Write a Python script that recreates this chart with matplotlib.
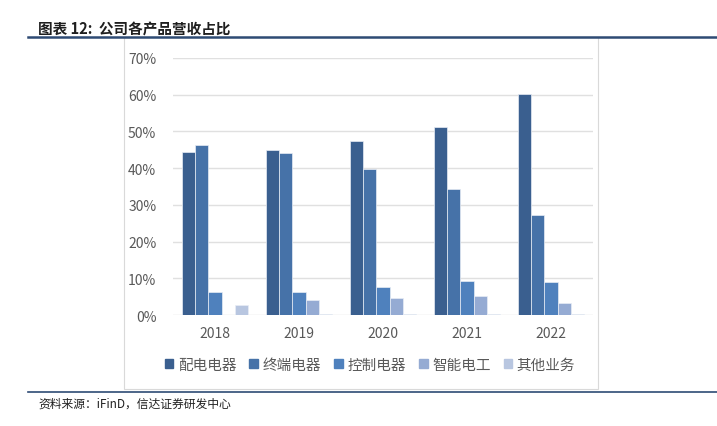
import matplotlib
matplotlib.use("Agg")
from matplotlib import pyplot as plt
from matplotlib.patches import Rectangle
from matplotlib.lines import Line2D
import numpy as np

plt.rcParams['font.family'] = ['Noto Sans CJK SC', 'DejaVu Sans']

years = ["2018", "2019", "2020", "2021", "2022"]
series = ["配电电器", "终端电器", "控制电器", "智能电工", "其他业务"]
配电电器 = [44.5, 44.9, 47.4, 51.1, 60.2]
终端电器 = [46.3, 44.2, 39.8, 34.2, 27.3]
控制电器 = [6.4, 6.4, 7.7, 9.2, 8.9]
智能电工 = [0.0, 4.1, 4.7, 5.3, 3.3]
其他业务 = [2.6, 0.3, 0.2, 0.2, 0.3]
values = [配电电器, 终端电器, 控制电器, 智能电工, 其他业务]
colors = ["#3A5F8F", "#4672A8", "#4F81BD", "#95ABD3", "#B8C6E0"]

fig = plt.figure(figsize=(7.17, 4.27), dpi=100)

# 外枠と上下の線
fig.add_artist(Rectangle((124/717, 1-390/427), (598-124)/717, (390-38)/427,
                         transform=fig.transFigure, fill=False, ec="#D9D9D9", lw=0.8))
fig.add_artist(Line2D([28/717, 1], [1-38/427]*2, transform=fig.transFigure,
                      color="#2E4B74", lw=1.8))
fig.add_artist(Line2D([28/717, 1], [1-393/427]*2, transform=fig.transFigure,
                      color="#2E4B74", lw=1.2))
fig.text(38/717, 1-29/427, "图表 12:  公司各产品营收占比", fontsize=10.5,
         fontweight="bold", color="#1F1F1F", va="center")
fig.text(38/717, 1-404/427, "资料来源：iFinD，信达证券研发中心", fontsize=8.5,
         style="italic", color="#1F1F1F", va="center")

ax = fig.add_axes([173/717, 1-316/427, 420/717, 257/427])
x = np.arange(len(years))
w = 0.155
for i, (name, vals) in enumerate(zip(series, values)):
    ax.bar(x + (i - 2) * w, np.array(vals) / 100, w, color=colors[i], label=name,
           edgecolor="#E8EDF5", linewidth=0.5, zorder=3)

ax.set_xlim(-0.5, 4.5)
ax.set_ylim(0, 0.7)
ax.set_yticks(np.arange(0, 0.71, 0.1))
ax.set_yticklabels([f"{int(round(v*100))}%" for v in np.arange(0, 0.71, 0.1)])
ax.set_xticks(x)
ax.set_xticklabels(years)
ax.tick_params(axis="both", length=0, labelsize=10, labelcolor="#595959")
ax.tick_params(axis="y", pad=12)
ax.tick_params(axis="x", pad=8)
ax.grid(axis="y", color="#E0E0E0", lw=1, zorder=0)
for s in ax.spines.values():
    s.set_visible(False)

handles = [Rectangle((0, 0), 1, 1, color=c) for c in colors]
fig.legend(handles, series, loc="center", bbox_to_anchor=(370/717, 1-366/427),
           ncol=5, frameon=False, fontsize=10.5, handlelength=0.6, handleheight=0.6,
           handletextpad=0.3, columnspacing=0.9, labelcolor="#595959")

fig.savefig("out.png", dpi=100)
